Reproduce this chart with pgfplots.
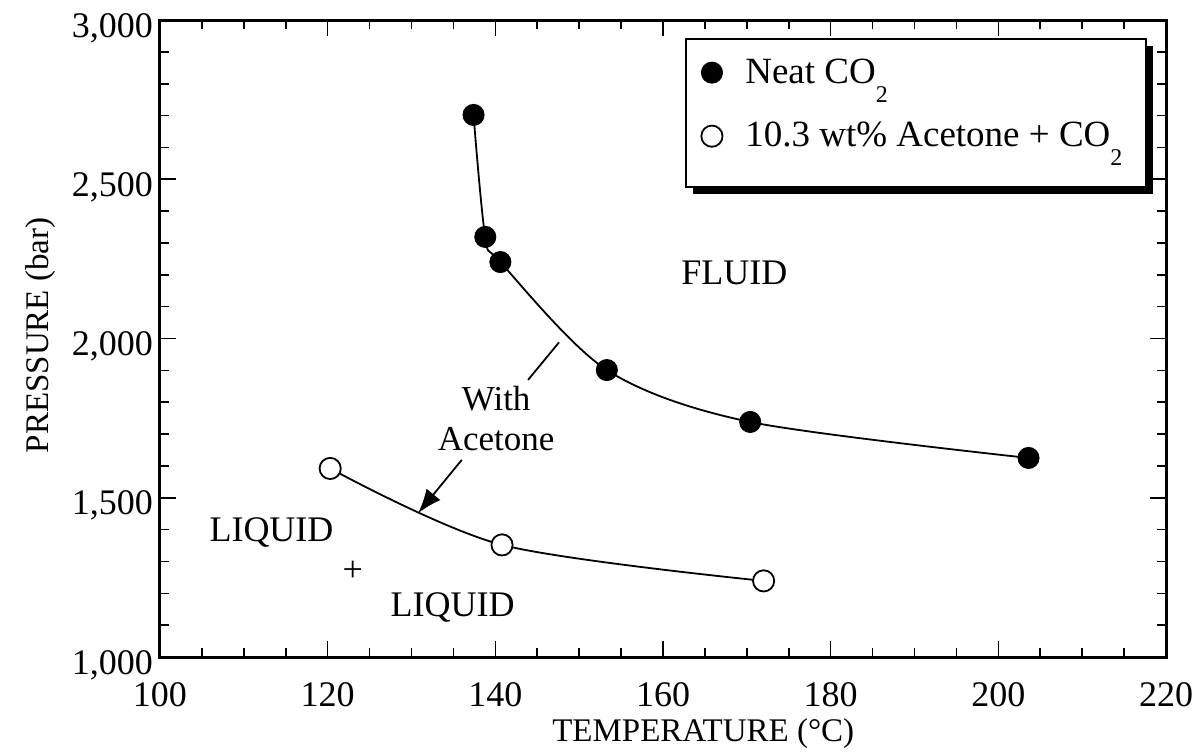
\documentclass[border=0pt]{standalone}
\usepackage{fontspec}
\setmainfont{Liberation Serif}
\usepackage{pgfplots}
\pgfplotsset{compat=1.18}
\usepackage{pgfplotstable}
\usetikzlibrary{shadows,arrows.meta}

% temperature (C), pressure (bar)
\pgfplotstableread{
T P
137.4 2702
138.8 2319
140.6 2240
153.3 1901
170.4 1738
203.6 1625
}\neat
\pgfplotstableread{
T P
120.3 1592
140.8 1352
172.0 1239
}\acetone

% low-hanging subscript as in the original
\newcommand{\lowsub}[1]{\smash{\raisebox{-9.5pt}{\fontsize{12}{12}\selectfont #1}}}

\begin{document}
\begin{tikzpicture}
\begin{axis}[
  scale only axis, width=503pt, height=318.5pt,
  xmin=100, xmax=220, ymin=1000, ymax=3000,
  xtick={100,120,...,220}, ytick={1000,1500,...,3000},
  minor x tick num=3, minor y tick num=4,
  major tick length=8pt, minor tick length=4.5pt,
  tick style={line width=0.8pt, black},
  axis line style={line width=1.5pt},
  /pgf/number format/1000 sep={,},
  /pgf/number format/assume math mode=true,
  tick label style={font=\fontsize{18}{20}\selectfont},
  yticklabel style={yshift=-4pt},
  xticklabel style={yshift=-9pt},
  label style={font=\fontsize{16.5}{20}\selectfont},
  xlabel={TEMPERATURE (°C)}, ylabel={PRESSURE (bar)},
  xlabel style={at={(axis description cs:0.54,-0.12)}, anchor=center},
  ylabel style={at={(axis description cs:-0.119,0.505)}, anchor=center},
  legend style={at={(axis description cs:0.522,0.971)}, anchor=north west,
    draw=none, fill=none,
    inner xsep=4pt, inner ysep=8pt, row sep=14pt,
    font=\fontsize{18.5}{20}\selectfont},
  legend image code/.code={
    \path (-9pt,0pt) (14.5pt,0pt);
    \draw[#1, only marks] plot coordinates {(0pt,0pt)};},
  legend cell align=left,
  clip=false,
]
  % legend frame with its heavy shadow
  \draw[line width=0.9pt, fill=white,
    drop shadow={shadow xshift=3.5pt, shadow yshift=-3.5pt, fill=black, opacity=1}]
    (rel axis cs:0.523,0.738) rectangle (rel axis cs:0.980,0.970);
  % fitted curves
  \addplot[black, line width=0.9pt, smooth, forget plot] table {\neat};
  \addplot[black, line width=0.9pt, smooth, forget plot] table {\acetone};
  % data points
  \addplot[only marks, mark=*, mark size=5.3pt, black] table {\neat};
  \addplot[only marks, mark=*, mark size=5.3pt,
    mark options={fill=white, draw=black, line width=0.9pt}] table {\acetone};
  \legend{Neat CO\lowsub{2}, 10.3 wt\% Acetone + CO\lowsub{2}}

  % region labels and arrow
  \node[font=\fontsize{18}{20}\selectfont] at (axis cs:168.5,2206) {FLUID};
  \node[font=\fontsize{17.5}{20}\selectfont, align=center] at (axis cs:140.1,1750) {With\\[0pt]Acetone};
  \draw[line width=0.9pt] (axis cs:143.9,1870) -- (axis cs:147.6,1988);
  \draw[line width=0.9pt, -{Latex[length=12pt,width=9pt]}] (axis cs:136.0,1619) -- (axis cs:130.8,1452);
  \node[font=\fontsize{18}{20}\selectfont] at (axis cs:113.3,1392) {LIQUID};
  \node[font=\fontsize{18}{20}\selectfont] at (axis cs:123.0,1268) {+};
  \node[font=\fontsize{18}{20}\selectfont] at (axis cs:134.9,1155) {LIQUID};
\end{axis}
\pgfresetboundingbox
\path ([xshift=-80pt,yshift=-47.5pt]current axis.south west)
  rectangle ([xshift=18pt,yshift=10pt]current axis.north east);
\end{tikzpicture}
\end{document}
